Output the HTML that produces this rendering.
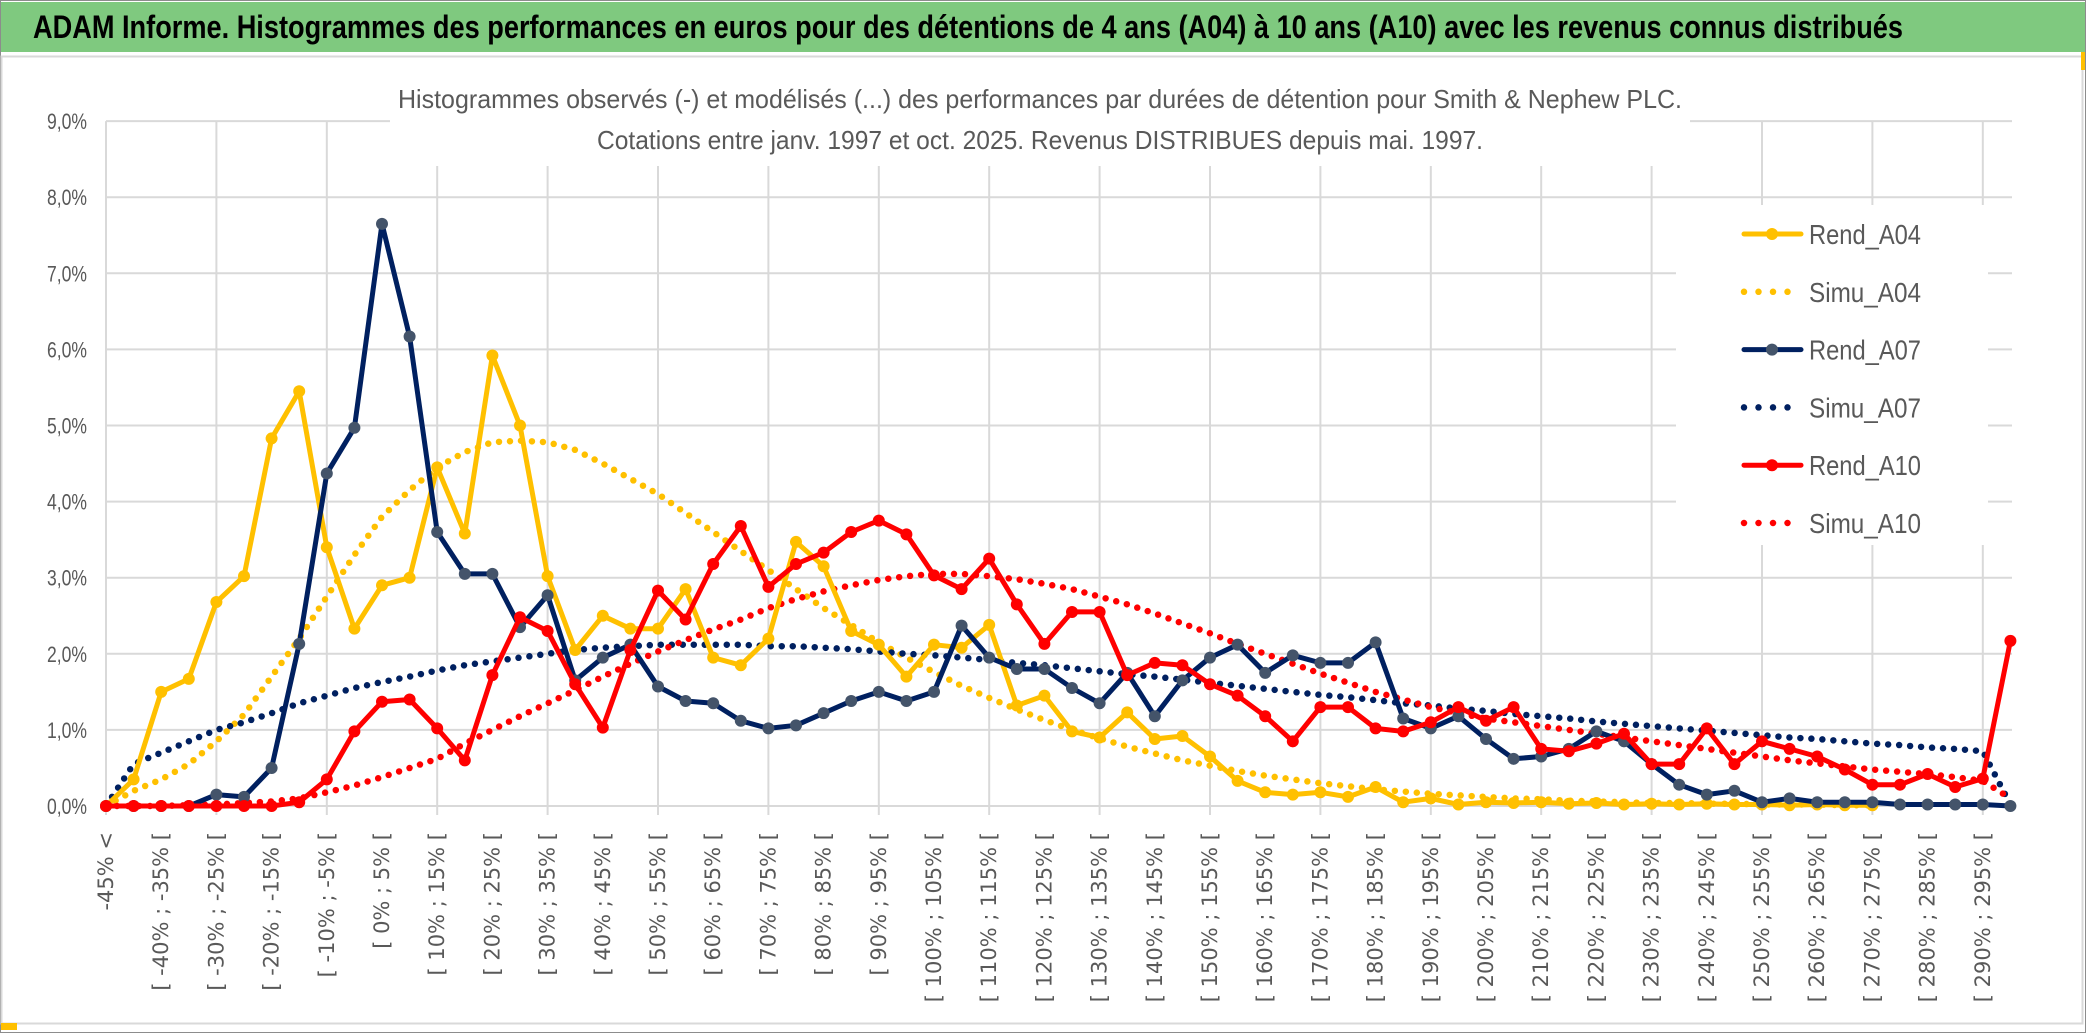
<!DOCTYPE html>
<html><head><meta charset="utf-8"><title>ADAM Informe - Smith & Nephew</title>
<style>html,body{margin:0;padding:0;background:#fff;}svg{display:block;}</style></head>
<body>
<svg id="chart" width="2086" height="1033" viewBox="0 0 2086 1033" xmlns="http://www.w3.org/2000/svg">
<rect x="0.5" y="0.5" width="2085" height="1032" fill="#fff" stroke="#8c8c8c"/>
<rect x="1" y="2" width="2084" height="50" fill="#7fc97f"/>
<text x="33" y="38" font-family="Liberation Sans, sans-serif" font-weight="bold" font-size="32" fill="#000" textLength="1870" lengthAdjust="spacingAndGlyphs">ADAM Informe. Histogrammes des performances en euros pour des détentions de 4 ans (A04) à 10 ans (A10) avec les revenus connus distribués</text>
<rect x="1.5" y="56.5" width="2081" height="967" fill="#fff" stroke="#d9d9d9" stroke-width="2"/>
<rect x="1" y="1023" width="16" height="7" fill="#ffc000"/>
<rect x="2081" y="52" width="4" height="18" fill="#ffc000"/>
<g id="grid"></g>
<rect x="390" y="60" width="1300" height="106" fill="#fff"/>
<text x="1040" y="108" text-anchor="middle" font-family="Liberation Sans, sans-serif" font-size="26" fill="#595959" textLength="1284" lengthAdjust="spacingAndGlyphs">Histogrammes observés (-) et modélisés (...) des performances par durées de détention pour Smith &amp; Nephew PLC.</text>
<text x="1040" y="149" text-anchor="middle" font-family="Liberation Sans, sans-serif" font-size="26" fill="#595959" textLength="886" lengthAdjust="spacingAndGlyphs">Cotations entre janv. 1997 et oct. 2025. Revenus DISTRIBUES depuis mai. 1997.</text>
<g id="yaxis"></g>
<g id="xaxis"></g>
<g id="series"></g>
<g id="legend"></g>
</svg>
<script>
const NS = "http://www.w3.org/2000/svg";
const yTicks = [0,1,2,3,4,5,6,7,8,9];
const yTickLabels = ["0,0%","1,0%","2,0%","3,0%","4,0%","5,0%","6,0%","7,0%","8,0%","9,0%"];
const binStarts = [];
for (let s = -45; s <= 295; s += 5) binStarts.push(s);
const categories = ["-45% <"].concat(binStarts.map(s => "[ " + s + "% ; " + (s+5) + "% ["));
const rendA04 = [0,0.35,1.5,1.67,2.68,3.02,4.83,5.45,3.4,2.33,2.9,3.0,4.45,3.58,5.92,5.0,3.02,2.05,2.5,2.33,2.33,2.85,1.95,1.85,2.2,3.47,3.15,2.3,2.12,1.7,2.12,2.08,2.38,1.32,1.45,0.98,0.9,1.23,0.88,0.92,0.65,0.33,0.18,0.15,0.18,0.12,0.25,0.05,0.1,0.02,0.05,0.04,0.05,0.03,0.04,0.02,0.03,0.02,0.03,0.02,0.02,0.01,0.02,0.01,0.01,null,null,null,null,null];
const simuA04 = [0,0.2,0.35,0.55,0.85,1.2,1.7,2.2,2.75,3.3,3.8,4.15,4.45,4.65,4.78,4.8,4.78,4.68,4.5,4.3,4.1,3.85,3.6,3.35,3.1,2.85,2.6,2.38,2.15,1.95,1.76,1.58,1.42,1.27,1.13,1.0,0.89,0.78,0.69,0.6,0.53,0.46,0.4,0.35,0.3,0.26,0.22,0.19,0.16,0.14,0.12,0.1,0.09,0.07,0.06,0.05,0.04,0.04,0.03,0.03,0.02,0.02,0.02,0.01,0.01,null,null,null,null,null];
const rendA07 = [0,0,0,0,0.15,0.12,0.5,2.13,4.37,4.97,7.65,6.17,3.6,3.05,3.05,2.35,2.77,1.65,1.95,2.12,1.57,1.38,1.35,1.12,1.02,1.06,1.22,1.38,1.5,1.38,1.5,2.37,1.95,1.8,1.8,1.55,1.35,1.75,1.18,1.65,1.95,2.12,1.75,1.98,1.88,1.88,2.15,1.15,1.02,1.18,0.88,0.62,0.65,0.75,0.98,0.85,0.55,0.28,0.15,0.2,0.05,0.1,0.05,0.05,0.05,0.02,0.02,0.02,0.02,0];
const simuA07 = [0,0.55,0.7,0.85,1.0,1.1,1.22,1.35,1.45,1.55,1.63,1.7,1.78,1.85,1.9,1.95,2.0,2.05,2.08,2.1,2.12,2.12,2.12,2.12,2.1,2.1,2.08,2.06,2.03,2.0,1.98,1.95,1.92,1.88,1.85,1.81,1.77,1.73,1.7,1.66,1.62,1.58,1.54,1.5,1.46,1.43,1.39,1.35,1.32,1.28,1.25,1.21,1.18,1.15,1.11,1.08,1.05,1.02,0.99,0.96,0.93,0.9,0.88,0.85,0.82,0.8,0.77,0.75,0.72,0.02];
const rendA10 = [0,0,0,0,0,0,0,0.05,0.35,0.98,1.37,1.4,1.02,0.6,1.72,2.48,2.3,1.6,1.03,2.05,2.83,2.45,3.18,3.68,2.88,3.18,3.33,3.6,3.75,3.57,3.03,2.85,3.25,2.65,2.13,2.55,2.55,1.72,1.88,1.85,1.6,1.45,1.18,0.85,1.3,1.3,1.02,0.98,1.1,1.3,1.12,1.3,0.75,0.72,0.82,0.95,0.55,0.55,1.02,0.55,0.85,0.75,0.65,0.48,0.28,0.28,0.42,0.25,0.36,2.17];
const simuA10 = [0,0,0,0.01,0.02,0.04,0.06,0.1,0.18,0.27,0.38,0.5,0.62,0.82,1.0,1.18,1.35,1.52,1.7,1.87,2.03,2.18,2.32,2.45,2.6,2.72,2.82,2.9,2.97,3.02,3.05,3.05,3.02,2.98,2.92,2.85,2.75,2.65,2.53,2.4,2.27,2.13,2.0,1.87,1.74,1.62,1.5,1.4,1.3,1.22,1.15,1.1,1.05,1.0,0.95,0.9,0.85,0.8,0.75,0.7,0.65,0.6,0.56,0.52,0.48,0.45,0.42,0.38,0.33,0.1];
const seriesNames = ["Rend_A04","Simu_A04","Rend_A07","Simu_A07","Rend_A10","Simu_A10"];

const X0 = 106, XSTEP = 27.6, Y0 = 806, YUNIT = 76.1;
function xs(i){ return X0 + i * XSTEP; }
function ys(v){ return Y0 - v * YUNIT; }
function mk(tag, attrs, parent){ const e = document.createElementNS(NS, tag); for (const k in attrs) e.setAttribute(k, attrs[k]); parent.appendChild(e); return e; }

const grid = document.getElementById("grid");
const xEnd = 2012;
yTicks.forEach(t => {
  const l = mk("line", {x1:X0, x2:xEnd, y1:ys(t), y2:ys(t), stroke:"#d9d9d9", "stroke-width":2}, grid);
  
  
});
for (let i = 0; i < categories.length; i += 4) {
  const l = mk("line", {x1:xs(i), x2:xs(i), y1:ys(9), y2:Y0+9, stroke:"#d9d9d9", "stroke-width":2}, grid);
  
  
}

const yaxis = document.getElementById("yaxis");
yTicks.forEach((t, i) => {
  const tx = mk("text", {x:87, y:ys(t)+8, "text-anchor":"end", "font-family":"Liberation Sans, sans-serif", "font-size":22, fill:"#595959", textLength:40, lengthAdjust:"spacingAndGlyphs"}, yaxis);
  tx.textContent = yTickLabels[i];
  
  
});

const xaxis = document.getElementById("xaxis");
categories.forEach((c, i) => {
  if (i % 2 !== 0) return;
  const x = xs(i) + 7, y = 832;
  const tx = mk("text", {x:x, y:y, transform:"rotate(-90 " + x + " " + y + ")", "text-anchor":"end", "font-family":"DejaVu Sans, sans-serif", "font-size":21, fill:"#595959"}, xaxis);
  tx.textContent = c;
  
  
});

const seriesG = document.getElementById("series");
function pathFor(vals){
  let d = ""; let pen = false;
  vals.forEach((v, i) => {
    if (v === null) { pen = false; return; }
    d += (pen ? "L" : "M") + xs(i).toFixed(1) + "," + ys(v).toFixed(1) + " ";
    pen = true;
  });
  return d;
}
function drawSimu(vals, color, name){
  const p = mk("path", {d:pathFor(vals), fill:"none", stroke:color, "stroke-width":6.5, "stroke-linecap":"round", "stroke-dasharray":"0 11"}, seriesG);
  
  
}
function drawRend(vals, color, mcolor, name){
  const p = mk("path", {d:pathFor(vals), fill:"none", stroke:color, "stroke-width":5, "stroke-linejoin":"round"}, seriesG);
  
  
  vals.forEach((v, i) => {
    if (v === null) return;
    const c = mk("circle", {cx:xs(i), cy:ys(v), r:6, fill:mcolor}, seriesG);
    
    
  });
}
drawSimu(simuA04, "#ffc000", "simu-a04-line");
drawSimu(simuA07, "#002060", "simu-a07-line");
drawSimu(simuA10, "#ff0000", "simu-a10-line");
drawRend(rendA04, "#ffc000", "#ffc000", "rend-a04-line");
drawRend(rendA07, "#002060", "#44546a", "rend-a07-line");
drawRend(rendA10, "#ff0000", "#ff0000", "rend-a10-line");

const legend = document.getElementById("legend");
const lb = mk("rect", {x:1676, y:205, width:312, height:340, fill:"#fff"}, legend);


const legColors = ["#ffc000","#ffc000","#002060","#002060","#ff0000","#ff0000"];
const legMarkers = ["#ffc000",null,"#44546a",null,"#ff0000",null];
seriesNames.forEach((n, i) => {
  const y = 234 + i * 57.8;
  const g = mk("g", {}, legend);
  
  
  if (legMarkers[i]) {
    mk("line", {x1:1744, x2:1801, y1:y, y2:y, stroke:legColors[i], "stroke-width":5, "stroke-linecap":"round"}, g);
    mk("circle", {cx:1772, cy:y, r:6, fill:legMarkers[i]}, g);
  } else {
    mk("line", {x1:1744, x2:1801, y1:y, y2:y, stroke:legColors[i], "stroke-width":6.5, "stroke-linecap":"round", "stroke-dasharray":"0 14.5"}, g);
  }
  const t = mk("text", {x:1809, y:y+10, "font-family":"Liberation Sans, sans-serif", "font-size":28, fill:"#595959", textLength:112, lengthAdjust:"spacingAndGlyphs"}, g);
  t.textContent = n;
});
</script>
</body></html>
